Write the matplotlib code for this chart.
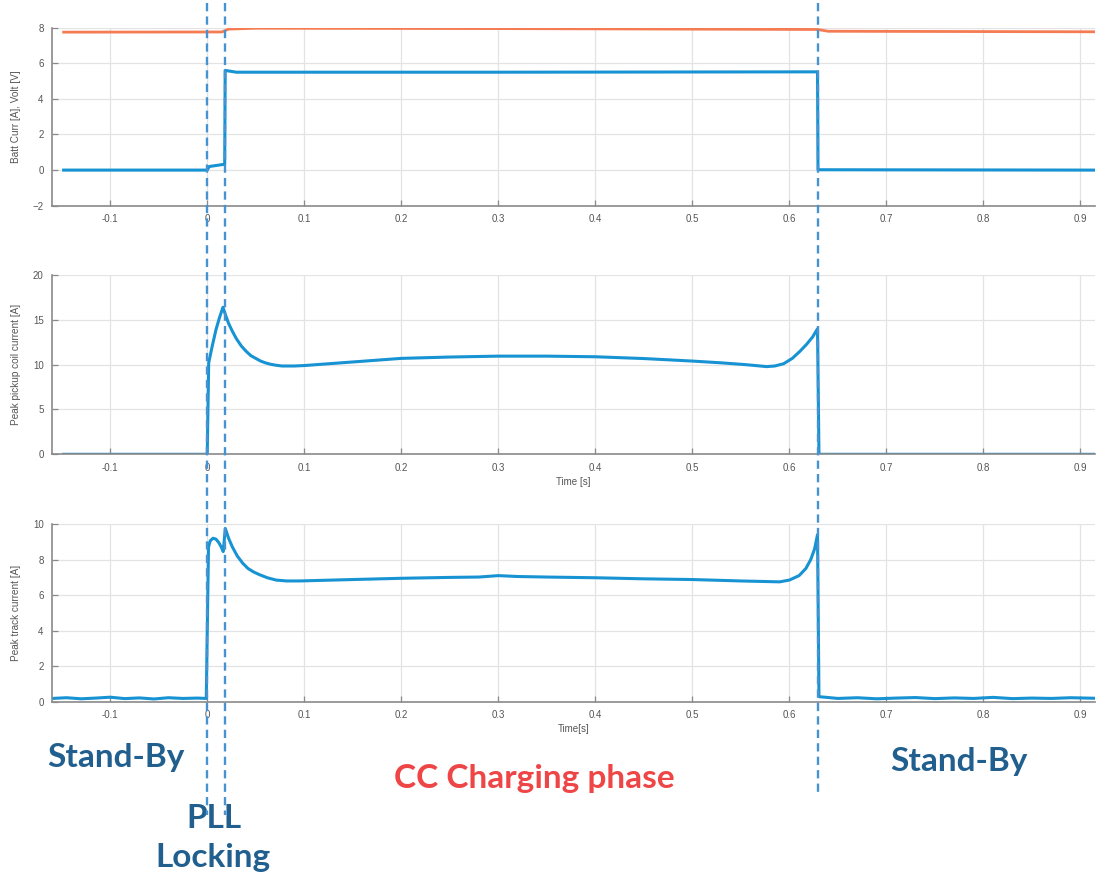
import matplotlib.pyplot as plt

W, H = 1097, 875

# battery current / voltage (top panel)
t_curr = [-0.148, 0.0, 0.002, 0.018, 0.0185, 0.03, 0.3, 0.629, 0.6295, 0.915]
batt_curr = [0.0, 0.0, 0.2, 0.33, 5.6, 5.5, 5.5, 5.52, 0.02, 0.0]
t_volt = [-0.148, 0.015, 0.022, 0.05, 0.3, 0.629, 0.64, 0.915]
batt_volt = [7.75, 7.76, 7.92, 7.97, 7.95, 7.9, 7.8, 7.77]

# peak pickup coil current (middle panel)
t_coil = [-0.148, 0.0, 0.0015, 0.005, 0.009, 0.0125, 0.0162, 0.019, 0.022, 0.026, 0.03,
          0.035, 0.04, 0.045, 0.05, 0.055, 0.06, 0.065, 0.07, 0.077, 0.09, 0.1, 0.125,
          0.15, 0.175, 0.2, 0.25, 0.3, 0.35, 0.4, 0.45, 0.5, 0.53, 0.555, 0.57, 0.5765,
          0.585, 0.594, 0.603, 0.611, 0.618, 0.624, 0.629, 0.6305, 0.915]
coil = [0.0, 0.0, 10.2, 12.0, 13.9, 15.2, 16.4, 15.5, 14.6, 13.7, 12.9,
        12.1, 11.5, 11.0, 10.7, 10.4, 10.2, 10.05, 9.95, 9.85, 9.85, 9.9, 10.1,
        10.3, 10.5, 10.7, 10.85, 10.95, 10.95, 10.88, 10.68, 10.4, 10.2, 10.0, 9.85, 9.78,
        9.85, 10.1, 10.7, 11.5, 12.3, 13.1, 14.0, 0.0, 0.0]

# peak track current (bottom panel)
t_track = [-0.16, -0.145, -0.13, -0.115, -0.1, -0.085, -0.07, -0.055, -0.04, -0.025, -0.01,
           -0.001, 0.0013, 0.003, 0.006, 0.009, 0.012, 0.0145, 0.0165, 0.0186, 0.022,
           0.026, 0.031, 0.0365, 0.042, 0.048, 0.054, 0.062, 0.071, 0.082, 0.095, 0.15,
           0.2, 0.25, 0.28, 0.3, 0.32, 0.35, 0.4, 0.45, 0.5, 0.55, 0.59, 0.6, 0.61,
           0.617, 0.622, 0.626, 0.629, 0.6305, 0.65, 0.67, 0.69, 0.71, 0.73, 0.75,
           0.77, 0.79, 0.81, 0.83, 0.85, 0.87, 0.89, 0.915]
track = [0.2, 0.24, 0.18, 0.22, 0.27, 0.19, 0.23, 0.17, 0.24, 0.2, 0.22,
         0.2, 8.7, 9.05, 9.2, 9.15, 8.95, 8.7, 8.45, 9.75, 9.2,
         8.7, 8.2, 7.8, 7.5, 7.3, 7.15, 6.98, 6.85, 6.8, 6.8, 6.88,
         6.95, 7.0, 7.02, 7.1, 7.05, 7.02, 6.98, 6.92, 6.88, 6.8, 6.75, 6.85, 7.1,
         7.5, 8.0, 8.6, 9.4, 0.3, 0.2, 0.24, 0.18, 0.22, 0.25, 0.19,
         0.23, 0.2, 0.26, 0.19, 0.22, 0.2, 0.24, 0.21]

xlim = (-0.16, 0.915)
xticks = [-0.1, 0, 0.1, 0.2, 0.3, 0.4, 0.5, 0.6, 0.7, 0.8, 0.9]
xtick_labels = ['-0.1', '0', '0.1', '0.2', '0.3', '0.4', '0.5', '0.6', '0.7', '0.8', '0.9']
phase_marks = [0.0, 0.018, 0.63]

blue = '#1793d3'
orange = '#f47b52'
dash_blue = '#4793d2'
dark_blue = '#215f8e'
red = '#ee4646'

plt.rcParams['font.family'] = ['Liberation Sans', 'DejaVu Sans']
fig = plt.figure(figsize=(W / 100, H / 100), dpi=100)

left = 52 / W
width = (1095 - 52) / W


def panel(top_px, bot_px, ylim, yticks, ylabel, xlabel=None):
    ax = fig.add_axes([left, 1 - bot_px / H, width, (bot_px - top_px) / H])
    ax.set_xlim(xlim)
    ax.set_ylim(ylim)
    ax.set_xticks(xticks)
    ax.set_xticklabels(xtick_labels)
    ax.set_yticks(yticks)
    ax.grid(True, color='#e3e3e3', linewidth=0.9)
    ax.set_axisbelow(True)
    for s in ['top', 'right']:
        ax.spines[s].set_visible(False)
    for s in ['left', 'bottom']:
        ax.spines[s].set_color('#8a8a8a')
        ax.spines[s].set_linewidth(1.2)
    ax.tick_params(direction='in', length=4, width=0.9, color='#8a8a8a',
                   labelsize=7, labelcolor='#555555', pad=6)
    ax.set_ylabel(ylabel, fontsize=7.2, color='#555555')
    ax.yaxis.set_label_coords(-0.03, 0.5)
    if xlabel:
        ax.set_xlabel(xlabel, fontsize=7, color='#555555', labelpad=3)
    return ax


ax1 = panel(27.7, 205.7, (-2, 8), [-2, 0, 2, 4, 6, 8], 'Batt Curr [A], Volt [V]')
ax1.plot(t_volt, batt_volt, color=orange, lw=2.0)
ax1.plot(t_curr, batt_curr, color=blue, lw=2.2)

ax2 = panel(275, 454.3, (0, 20), [0, 5, 10, 15, 20], 'Peak pickup coil current [A]', 'Time [s]')
ax2.plot(t_coil, coil, color=blue, lw=2.2)

ax3 = panel(524, 702, (0, 10), [0, 2, 4, 6, 8, 10], 'Peak track current [A]', 'Time[s]')
ax3.plot(t_track, track, color=blue, lw=2.2)

# dashed phase markers across the whole figure
ov = fig.add_axes([left, 0, width, 1], zorder=5)
ov.set_xlim(xlim)
ov.set_ylim(H, 0)
ov.axis('off')
ov.patch.set_visible(False)
ov.vlines(phase_marks[:2], 3, 815, colors=dash_blue, linestyles=(0, (3.5, 2.2)), lw=1.7)
ov.vlines(phase_marks[2:], 3, 792, colors=dash_blue, linestyles=(0, (3.5, 2.2)), lw=1.7)


def label(x, y, s, color):
    fig.text(x / W, 1 - y / H, s, color=color, fontsize=24, fontweight='bold',
             family='Lato', ha='center', va='baseline')


label(116, 767, 'Stand-By', dark_blue)
label(214, 828, 'PLL', dark_blue)
label(213, 867, 'Locking', dark_blue)
label(534, 788, 'CC Charging phase', red)
label(959, 771, 'Stand-By', dark_blue)

fig.savefig('out.png', dpi=100)
